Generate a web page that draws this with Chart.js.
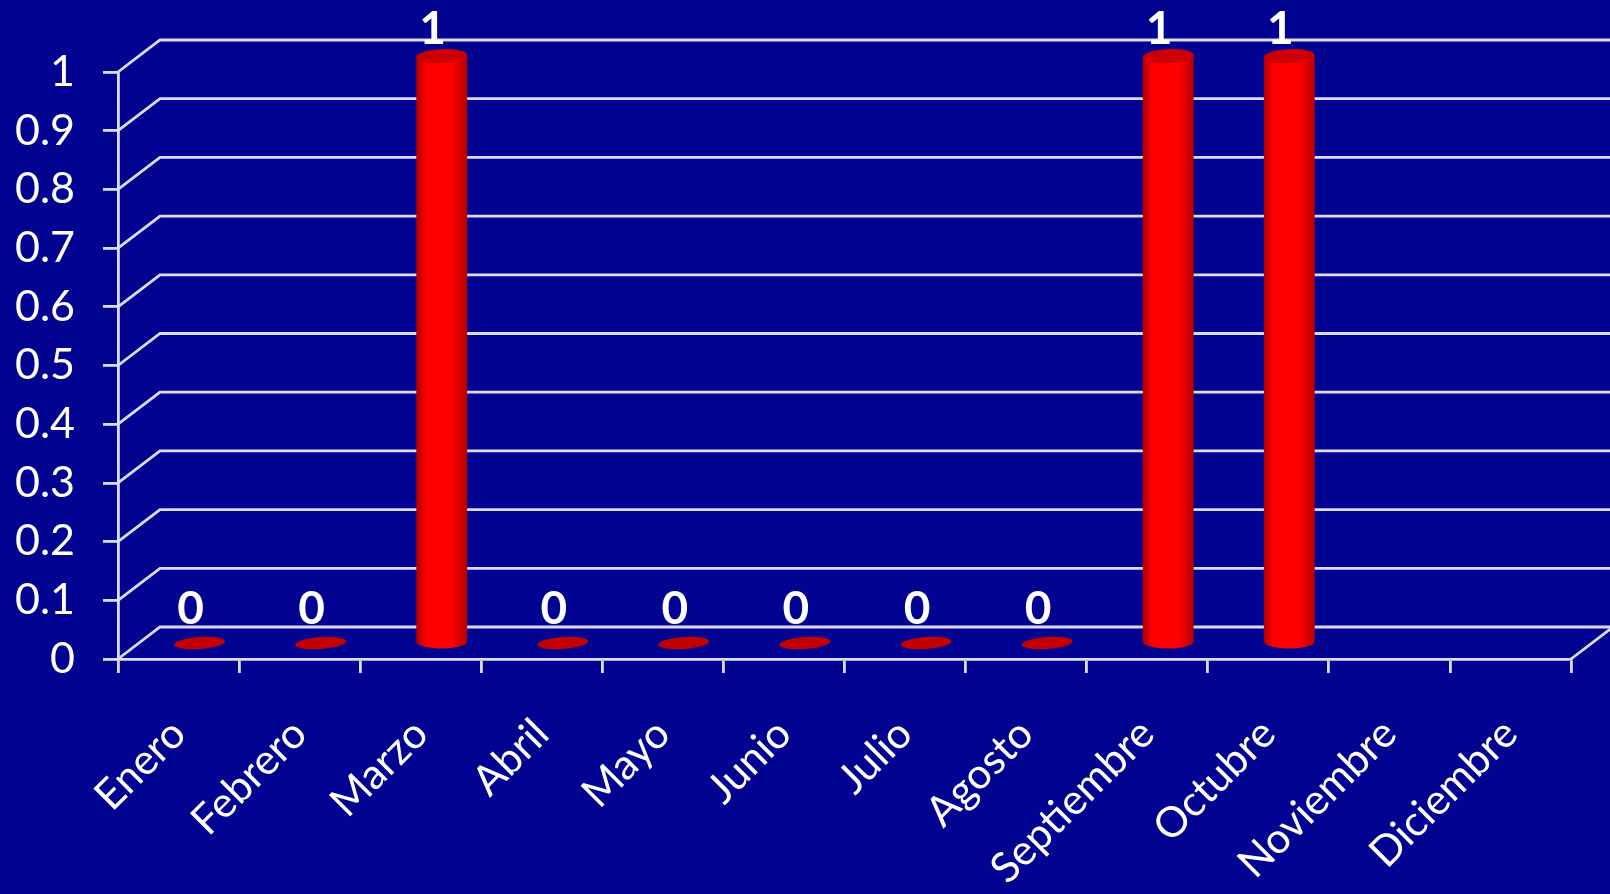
<!DOCTYPE html>
<html>
<head>
<meta charset="utf-8">
<script src="https://cdn.jsdelivr.net/npm/chart.js@4.4.1/dist/chart.umd.min.js"></script>
<style>
  html, body { margin: 0; padding: 0; background: #030391; }
  #wrap { width: 1610px; height: 894px; }
</style>
</head>
<body>
<div id="wrap"><canvas id="chart" width="1610" height="894"></canvas></div>
<script>
const months = ['Enero', 'Febrero', 'Marzo', 'Abril', 'Mayo', 'Junio', 'Julio', 'Agosto', 'Septiembre', 'Octubre', 'Noviembre', 'Diciembre'];
const counts = [0, 0, 1, 0, 0, 0, 0, 0, 1, 1, null, null];
const yTickLabels = ['0', '0.1', '0.2', '0.3', '0.4', '0.5', '0.6', '0.7', '0.8', '0.9', '1'];

const lineColor = '#dcdcf0';
const depthX = 42, depthY = 32; // desplazamiento de la pared del fondo

// pared del fondo + cilindros
const cylinders = {
    id: 'cylinders',
    beforeDatasetsDraw(chart) {
        const {ctx, chartArea: a, scales: {y}} = chart;
        ctx.save();
        ctx.strokeStyle = lineColor;
        ctx.lineWidth = 2.8;
        y.ticks.forEach(t => {
            const py = y.getPixelForValue(t.value);
            ctx.beginPath();
            ctx.moveTo(a.left, py);
            ctx.lineTo(a.left + depthX, py - depthY);
            ctx.lineTo(chart.width, py - depthY);
            ctx.stroke();
        });
        const y0 = y.getPixelForValue(0);
        ctx.beginPath();
        ctx.moveTo(a.right, y0);
        ctx.lineTo(a.right + depthX, y0 - depthY);
        ctx.stroke();
        ctx.restore();
    },
    afterDatasetsDraw(chart) {
        const ctx = chart.ctx;
        const meta = chart.getDatasetMeta(0);
        ctx.save();
        meta.data.forEach((bar, i) => {
            const v = counts[i];
            if (v === null) return;
            const cx = bar.x + depthX / 2;
            const top = bar.y - depthY / 2;
            const base = bar.base - depthY / 2;
            const rx = bar.width / 2;
            if (base - top < 2) {
                ctx.fillStyle = '#c40000';
                ctx.beginPath();
                ctx.ellipse(cx, base, rx, 6, -0.07, 0, Math.PI * 2);
                ctx.fill();
            } else {
                const ry = 7;
                const g = ctx.createLinearGradient(cx - rx, 0, cx + rx, 0);
                g.addColorStop(0, '#b00000');
                g.addColorStop(0.2, '#ff0000');
                g.addColorStop(0.7, '#ff0000');
                g.addColorStop(1, '#b40000');
                ctx.fillStyle = g;
                ctx.beginPath();
                ctx.moveTo(cx - rx, top);
                ctx.lineTo(cx - rx, base);
                ctx.ellipse(cx, base, rx, ry, 0, Math.PI, 0, true);
                ctx.lineTo(cx + rx, top);
                ctx.closePath();
                ctx.fill();
                ctx.fillStyle = '#cc0000';
                ctx.beginPath();
                ctx.ellipse(cx, top, rx, ry, -0.05, 0, Math.PI * 2);
                ctx.fill();
            }
            // etiqueta
            ctx.fillStyle = '#ffffff';
            ctx.font = 'bold 46px Lato';
            ctx.textAlign = 'center';
            ctx.textBaseline = 'alphabetic';
            ctx.fillText(String(v), bar.x + 12, top - (v > 0 ? 12 : 19));
        });
        ctx.restore();
    }
};

new Chart(document.getElementById('chart'), {
    type: 'bar',
    data: {
        labels: months,
        datasets: [{
            data: counts,
            backgroundColor: 'rgba(0,0,0,0)',
            borderWidth: 0,
            barPercentage: 0.42,
            categoryPercentage: 1
        }]
    },
    options: {
        responsive: false,
        animation: false,
        layout: {padding: {top: 72, right: 39, left: 0, bottom: 0}},
        plugins: {legend: {display: false}, tooltip: {enabled: false}},
        scales: {
            x: {
                ticks: {
                    color: '#ffffff',
                    font: {family: 'Lato', size: 42},
                    maxRotation: 45,
                    minRotation: 45,
                    autoSkip: false,
                    padding: 36
                },
                grid: {drawOnChartArea: false, color: lineColor, lineWidth: 2.8, tickLength: 14, offset: true},
                border: {color: lineColor, width: 2.8},
                afterFit: s => { s.height = 894 - 659; }
            },
            y: {
                min: 0,
                max: 1,
                ticks: {
                    stepSize: 0.1,
                    color: '#ffffff',
                    font: {family: 'Lato', size: 43},
                    padding: 28,
                    callback: (v, i) => yTickLabels[i]
                },
                grid: {drawOnChartArea: false, color: lineColor, lineWidth: 2.8, tickLength: 15},
                border: {color: lineColor, width: 2.8},
                afterFit: s => { s.width = 118; }
            }
        }
    },
    plugins: [cylinders]
});
</script>
</body>
</html>
